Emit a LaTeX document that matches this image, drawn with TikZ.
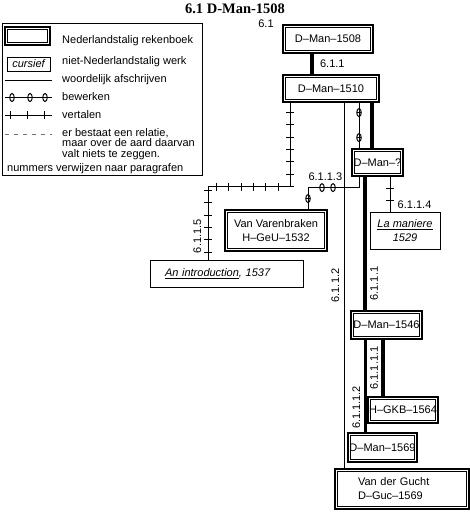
\documentclass[tikz,border=0pt]{standalone}
\usepackage{fontspec}
\setmainfont{Liberation Sans}
\newfontfamily\titlefont{Liberation Serif}
\usetikzlibrary{shapes.geometric,decorations.markings}

\tikzset{
  nlbook/.style={draw, line width=1.2pt, inner sep=1pt, align=center,
    path picture={\draw[line width=0.7pt] ([shift={(2.6pt,-2.6pt)}]path picture bounding box.north west) rectangle ([shift={(-2.6pt,2.6pt)}]path picture bounding box.south east);}},
  fgbook/.style={draw, line width=0.8pt, inner sep=1pt, align=center, font=\fontsize{11}{14}\selectfont\itshape},
  copyline/.style={line width=3.5pt},
  thinline/.style={line width=1pt},
  transline/.style={line width=0.8pt, postaction={decorate, decoration={markings, mark=between positions #1 with {\draw[line width=0.8pt] (0pt,-4pt) -- (0pt,4pt);}}}},
  editline/.style={line width=0.8pt},
  editmark/.style={postaction={decorate, decoration={markings, mark=at position #1 with {\node[bewmark] {};}}}},
  bewmark/.style={draw, ellipse, line width=1pt, inner sep=0pt, minimum width=4.5pt, minimum height=8pt, path picture={\draw[line width=1pt] (path picture bounding box.west) -- (path picture bounding box.east);}},
  relline/.style={line width=0.8pt, black!55, dash pattern=on 4pt off 5pt}
}

\begin{document}
\begin{tikzpicture}[x=1pt, y=-1pt, every node/.style={font=\fontsize{11}{14}\selectfont}]
  \useasboundingbox (0,0) rectangle (470,513);
  \node (title) at (235,8.5) {\titlefont\bfseries\fontsize{14.5}{16}\selectfont 6.1 D-Man-1508};

  % legend
  \node[draw, line width=0.8pt, minimum width=200pt, minimum height=152pt] (legend) at (102,99) {};
  \node[nlbook, minimum width=45pt, minimum height=18pt] (keynl) at (27.5,36) {};
  \node[fgbook, minimum width=43pt, minimum height=14pt] (keyfg) at (28.5,64) {cursief};
  \draw[thinline] (5,81) -- (52,81);
  \draw[editline, editmark/.list={7pt,25pt,40pt}] (5,97.5) -- (52,97.5);
  \draw[transline={5pt and 40pt step 17pt}] (5,115) -- (52,115);
  \draw[relline] (5,134) -- (52,134);
  \node[anchor=base west, inner sep=0pt] (txnl) at (62,43.5) {Nederlandstalig rekenboek};
  \node[anchor=base west, inner sep=0pt] (txfg) at (62,65) {niet-Nederlandstalig werk};
  \node[anchor=base west, inner sep=0pt] (txcopy) at (62,83) {woordelijk afschrijven};
  \node[anchor=base west, inner sep=0pt] (txedit) at (62,101) {bewerken};
  \node[anchor=base west, inner sep=0pt] (txtrans) at (62,119) {vertalen};
  \node[anchor=north west, inner sep=0pt, align=left, font=\fontsize{11}{10.5}\selectfont] (txrel) at (62,128) {er bestaat een relatie,\\maar over de aard daarvan\\valt niets te zeggen.};
  \node[anchor=base west, inner sep=0pt] (txnum) at (7,171) {nummers verwijzen naar paragrafen};

  % books
  \node[inner sep=1pt] (l61) at (266,24) {6.1};
  \node[nlbook, minimum width=90pt, minimum height=28pt] (d1508) at (328,39) {D--Man--1508};
  \node[nlbook, minimum width=96pt, minimum height=27pt] (d1510) at (331,88.5) {D--Man--1510};
  \node[nlbook, minimum width=51pt, minimum height=27pt] (dq) at (377.5,162.5) {D--Man--?};
  \node[nlbook, minimum width=102pt, minimum height=41pt] (var) at (276,230.5) {Van Varenbraken\\H--GeU--1532};
  \node[fgbook, minimum width=153pt, minimum height=27pt, text width=123pt, align=left] (intro) at (226.5,273.5) {\underline{An introduction}, 1537};
  \node[fgbook, minimum width=70pt, minimum height=37pt] (man) at (405,230.5) {\underline{La maniere}\\1529};
  \node[nlbook, minimum width=71pt, minimum height=28pt] (d1546) at (386.5,325) {D--Man--1546};
  \node[nlbook, minimum width=70pt, minimum height=26pt] (h1564) at (403,410) {H--GKB--1564};
  \node[nlbook, minimum width=69pt, minimum height=29pt] (d1569) at (382.5,447.5) {D--Man--1569};
  \node[nlbook, minimum width=134pt, minimum height=40pt, text width=88pt, align=left] (gucht) at (402,489) {Van der Gucht\\D--Guc--1569};

  % relations
  \draw[copyline] ([xshift=-16pt]d1508.south) -- ([xshift=-16pt]d1508.south |- d1510.north) node[midway, right, xshift=3pt] (l611) {6.1.1};
  \draw[transline={10pt and 232pt step 12.3pt}] ([xshift=-41pt]d1510.south) -- ++(0,84) -| node[pos=0.84, xshift=-3pt, rotate=90, anchor=south] (l6115) {6.1.1.5} ([xshift=-18.5pt]intro.north);
  \draw[thinline] ([xshift=13pt]d1510.south) -- ([xshift=13pt]d1510.south |- gucht.north) node[midway, xshift=-1pt, rotate=90, anchor=south] (l6112) {6.1.1.2};
  \draw[editline, editmark/.list={10pt,35pt}] ([xshift=28pt]d1510.south) -- ([xshift=28pt]d1510.south |- dq.north);
  \draw[copyline] ([xshift=41pt]d1510.south) -- ([xshift=41pt]d1510.south |- dq.north);
  \draw[editline, editmark/.list={37pt,48pt,73pt}] ([xshift=-18.5pt]dq.south) -- ++(0,11) -| node[pos=0.33, above, yshift=3pt] (l6113) {6.1.1.3} ([xshift=32pt]var.north);
  \draw[transline={12pt and 25pt step 12pt}] ([xshift=12.5pt]dq.south) -- ([xshift=12.5pt]dq.south |- man.north) node[pos=0.8, right, xshift=4pt] (l6114) {6.1.1.4};
  \draw[copyline] ([xshift=-12.5pt]dq.south) -- ([xshift=-12.5pt]dq.south |- d1546.north) node[pos=0.8, rotate=90, anchor=north] (l6111) {6.1.1.1};
  \draw[copyline] ([xshift=-3.5pt]d1546.south) -- ([xshift=-3.5pt]d1546.south |- h1564.north) node[midway, rotate=90, anchor=south] (l61111) {6.1.1.1.1};
  \draw[copyline, line width=3pt] ([xshift=-21.5pt]d1546.south) -- ([xshift=-21.5pt]d1546.south |- d1569.north) node[pos=0.73, rotate=90, anchor=south] (l61112) {6.1.1.1.2};
\end{tikzpicture}
\end{document}
